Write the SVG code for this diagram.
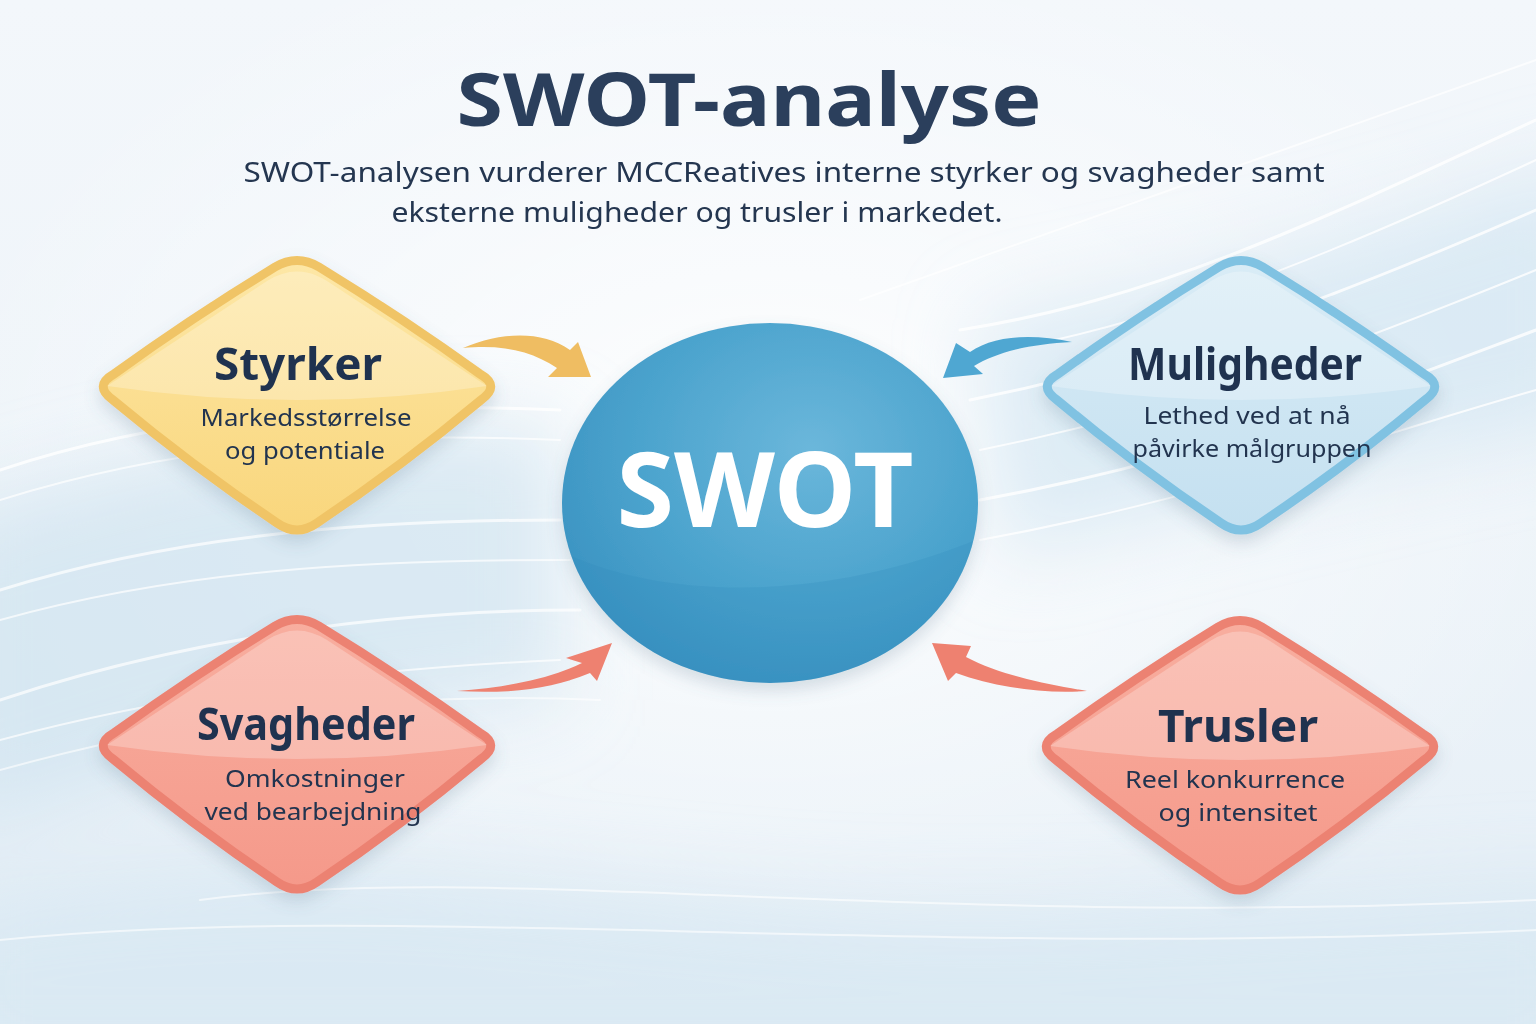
<svg xmlns="http://www.w3.org/2000/svg" width="1536" height="1024" viewBox="0 0 1536 1024">
<defs>
<style>
.title{font-family:"Noto Sans","Open Sans","Liberation Sans",sans-serif;font-weight:700;fill:#2b3f5c;}
.sub{font-family:"Noto Sans","Open Sans","Liberation Sans",sans-serif;fill:#243650;}
.nt{font-family:"Noto Sans","Open Sans","Liberation Sans",sans-serif;font-weight:700;fill:#1f324f;font-size:44px;text-anchor:middle;}
.nd{font-family:"Noto Sans","Open Sans","Liberation Sans",sans-serif;fill:#22344f;font-size:24px;text-anchor:middle;}
.wave{fill:none;stroke:#ffffff;stroke-linecap:round;}
.gloss{fill:#ffffff;opacity:0.25;}
</style>
<linearGradient id="bg" x1="0" y1="0" x2="0" y2="1">
<stop offset="0" stop-color="#f3f7fb"/><stop offset="0.5" stop-color="#eef4f9"/><stop offset="1" stop-color="#e4eef6"/>
</linearGradient>
<radialGradient id="bgglow" cx="0.5" cy="0.45" r="0.55">
<stop offset="0" stop-color="#ffffff" stop-opacity="0.9"/><stop offset="1" stop-color="#ffffff" stop-opacity="0"/>
</radialGradient>
<linearGradient id="gy" x1="0" y1="0" x2="0" y2="1"><stop offset="0" stop-color="#fde7a6"/><stop offset="1" stop-color="#f9d67c"/></linearGradient>
<linearGradient id="gb" x1="0" y1="0" x2="0" y2="1"><stop offset="0" stop-color="#d9ecf6"/><stop offset="1" stop-color="#c4e0f0"/></linearGradient>
<linearGradient id="gr" x1="0" y1="0" x2="0" y2="1"><stop offset="0" stop-color="#f8ae9f"/><stop offset="1" stop-color="#f5998a"/></linearGradient>
<radialGradient id="gc" cx="0.6" cy="0.35" r="0.7">
<stop offset="0" stop-color="#6bb7db"/><stop offset="0.6" stop-color="#4ba3cd"/><stop offset="1" stop-color="#3a92c1"/>
</radialGradient>
<filter id="sh" x="-20%" y="-20%" width="140%" height="150%"><feDropShadow dx="0" dy="8" stdDeviation="8" flood-color="#5a7890" flood-opacity="0.22"/></filter>
<filter id="blur" x="-30%" y="-30%" width="160%" height="160%"><feGaussianBlur stdDeviation="40"/></filter>
<clipPath id="cc"><ellipse cx="770" cy="503" rx="208" ry="180"/></clipPath>
<path id="dia" d="M -183,-12 Q -104,-69 -22,-119 Q 0,-132 22,-119 Q 104,-69 183,-12 Q 204,0 184,14 Q 105,80 20,137 Q 0,151 -20,137 Q -105,80 -184,14 Q -204,0 -183,-12 Z"/>
<path id="diagloss" d="M -190,0 L -30,-105 Q 0,-124 30,-105 L 190,0 Q 0,28 -190,0 Z"/>
</defs>

<rect width="1536" height="1024" fill="url(#bg)"/>
<rect width="1536" height="1024" fill="url(#bgglow)"/>

<g id="background-waves">
<g filter="url(#blur)">
<path d="M-60,520 C200,440 350,420 560,430 L560,700 C350,700 180,760 -60,840 Z" fill="#cfe3f0" opacity="0.7"/>
<path d="M1600,160 C1350,240 1150,290 980,320 L1000,560 C1150,520 1350,470 1600,420 Z" fill="#d2e6f2" opacity="0.7"/>
<path d="M-60,900 C300,840 500,880 760,900 C1000,920 1250,900 1600,880 L1600,1080 L-60,1080 Z" fill="#d6e7f2" opacity="0.7"/>
</g>
<path class="wave" stroke-width="3" opacity="0.8" d="M0,470 C150,420 320,400 560,410"/>
<path class="wave" stroke-width="2" opacity="0.7" d="M0,500 C160,450 330,430 560,440"/>
<path class="wave" stroke-width="3" opacity="0.7" d="M0,590 C160,540 340,520 560,520"/>
<path class="wave" stroke-width="2" opacity="0.7" d="M0,620 C180,570 360,560 570,560"/>
<path class="wave" stroke-width="3" opacity="0.7" d="M0,700 C150,650 350,610 580,610"/>
<path class="wave" stroke-width="2" opacity="0.7" d="M0,740 C150,700 330,670 560,660"/>
<path class="wave" stroke-width="2" opacity="0.6" d="M0,770 C180,720 380,690 600,700"/>
<path class="wave" stroke-width="3" opacity="0.8" d="M960,330 C1150,300 1300,230 1536,120"/>
<path class="wave" stroke-width="2" opacity="0.8" d="M950,360 C1150,330 1320,260 1536,160"/>
<path class="wave" stroke-width="3" opacity="0.8" d="M970,400 C1170,360 1330,300 1536,210"/>
<path class="wave" stroke-width="2" opacity="0.8" d="M980,450 C1180,410 1340,350 1536,270"/>
<path class="wave" stroke-width="3" opacity="0.8" d="M980,500 C1200,460 1350,400 1536,330"/>
<path class="wave" stroke-width="2" opacity="0.8" d="M980,540 C1200,500 1360,440 1536,390"/>
<path class="wave" stroke-width="2" opacity="0.7" d="M860,300 C1000,250 1200,180 1536,60"/>
<path class="wave" stroke-width="2" opacity="0.6" d="M200,900 C500,860 900,930 1536,900"/>
<path class="wave" stroke-width="2" opacity="0.6" d="M0,940 C400,900 900,960 1536,930"/>
</g>

<g id="title">
<text class="title" x="749" y="126" font-size="74" text-anchor="middle" textLength="585" lengthAdjust="spacingAndGlyphs">SWOT-analyse</text>
<text class="sub" x="784" y="182" font-size="27" text-anchor="middle" textLength="1081" lengthAdjust="spacingAndGlyphs">SWOT-analysen vurderer MCCReatives interne styrker og svagheder samt</text>
<text class="sub" x="697" y="222" font-size="27" text-anchor="middle" textLength="611" lengthAdjust="spacingAndGlyphs">eksterne muligheder og trusler i markedet.</text>
</g>

<g id="connectors">
<path d="M463,348 C500,332 542,330 570,350 L578,342 L591,377 L548,377 L557,368 C533,352 505,344 463,348 Z" fill="#efbd62"/>
<path d="M1072,342 C1030,333 993,336 970,352 L956,343 L943,378 L983,374 L974,366 C997,352 1030,344 1072,342 Z" fill="#4fa7d2"/>
<path d="M457,691 C500,688 548,680 582,663 L566,658 L612,643 L597,681 L590,673 C552,689 510,694 457,691 Z" fill="#ee8170"/>
<path d="M1087,691 C1045,694 998,688 956,673 L948,681 L932,643 L971,646 L966,657 C1000,675 1045,684 1087,691 Z" fill="#ee8170"/>
</g>

<g id="center-swot">
<ellipse cx="770" cy="503" rx="208" ry="180" fill="url(#gc)" filter="url(#sh)"/>
<path d="M540,540 C640,600 820,610 1000,530 L1000,700 L540,700 Z" fill="#2f89b9" opacity="0.22" clip-path="url(#cc)"/>
<text x="765" y="527" font-family="'Noto Sans','Open Sans','Liberation Sans',sans-serif" font-weight="700" font-size="104" fill="#ffffff" text-anchor="middle" textLength="297" lengthAdjust="spacingAndGlyphs">SWOT</text>
</g>

<g id="node-styrker" transform="translate(297,386)">
<use href="#dia" fill="url(#gy)" stroke="#f0c466" stroke-width="9" filter="url(#sh)"/>
<use href="#diagloss" class="gloss"/>
<text class="nt" x="1" y="-6" textLength="168" lengthAdjust="spacingAndGlyphs">Styrker</text>
<text class="nd" x="9" y="40" textLength="211" lengthAdjust="spacingAndGlyphs">Markedsstørrelse</text>
<text class="nd" x="8" y="73" textLength="160" lengthAdjust="spacingAndGlyphs">og potentiale</text>
</g>

<g id="node-muligheder" transform="translate(1241,386)">
<use href="#dia" fill="url(#gb)" stroke="#80c2e2" stroke-width="9" filter="url(#sh)"/>
<use href="#diagloss" class="gloss"/>
<text class="nt" x="4" y="-6" textLength="234" lengthAdjust="spacingAndGlyphs">Muligheder</text>
<text class="nd" x="6" y="38" textLength="207" lengthAdjust="spacingAndGlyphs">Lethed ved at nå</text>
<text class="nd" x="11" y="71" textLength="239" lengthAdjust="spacingAndGlyphs">påvirke målgruppen</text>
</g>

<g id="node-svagheder" transform="translate(297,745)">
<use href="#dia" fill="url(#gr)" stroke="#ec8272" stroke-width="9" filter="url(#sh)"/>
<use href="#diagloss" class="gloss"/>
<text class="nt" x="9" y="-5" textLength="218" lengthAdjust="spacingAndGlyphs">Svagheder</text>
<text class="nd" x="18" y="42" textLength="180" lengthAdjust="spacingAndGlyphs">Omkostninger</text>
<text class="nd" x="16" y="75" textLength="217" lengthAdjust="spacingAndGlyphs">ved bearbejdning</text>
</g>

<g id="node-trusler" transform="translate(1240,746)">
<use href="#dia" fill="url(#gr)" stroke="#ec8272" stroke-width="9" filter="url(#sh)"/>
<use href="#diagloss" class="gloss"/>
<text class="nt" x="-2" y="-4" textLength="160" lengthAdjust="spacingAndGlyphs">Trusler</text>
<text class="nd" x="-5" y="42" textLength="220" lengthAdjust="spacingAndGlyphs">Reel konkurrence</text>
<text class="nd" x="-2" y="75" textLength="159" lengthAdjust="spacingAndGlyphs">og intensitet</text>
</g>
</svg>
